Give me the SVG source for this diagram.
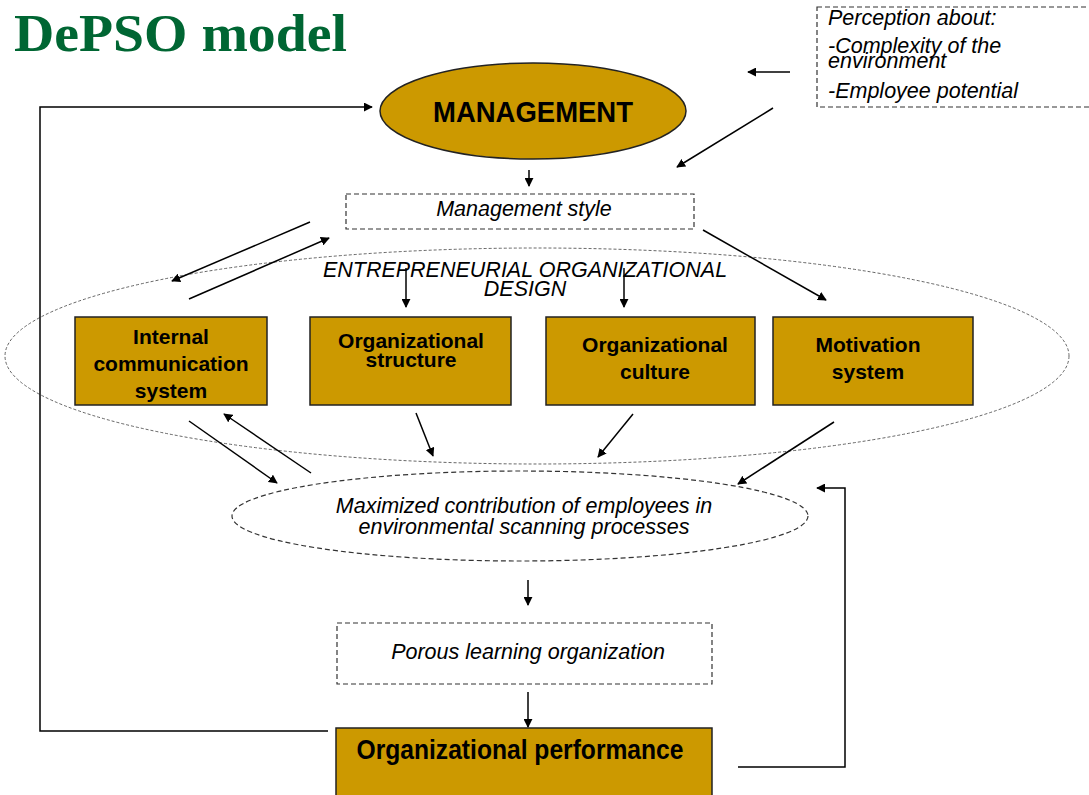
<svg xmlns="http://www.w3.org/2000/svg" width="1089" height="795" viewBox="0 0 1089 795">
<style>
.box{fill:#CC9900;stroke:#222;stroke-width:1.5}
.bt{font-family:"Liberation Sans",Arial,sans-serif;font-weight:bold;font-size:21px;fill:#000;text-anchor:middle}
.it{font-family:"Liberation Sans",Arial,sans-serif;font-style:italic;font-size:21.5px;fill:#000}
.dash{fill:none;stroke:#333;stroke-width:1.2;stroke-dasharray:5,3}
.ar{fill:none;stroke:#000;stroke-width:1.5;marker-end:url(#ah)}
</style>
<defs>
<marker id="ah" viewBox="0 0 10 10" refX="9" refY="5" markerWidth="9" markerHeight="9" markerUnits="userSpaceOnUse" orient="auto">
<path d="M0,0 L10,5 L0,10 z" fill="#000"/>
</marker>
</defs>
<rect width="1089" height="795" fill="#fff"/>
<text x="14" y="51" font-family="'Liberation Serif','Times New Roman',serif" font-weight="bold" font-size="52" fill="#006633" textLength="333" lengthAdjust="spacingAndGlyphs">DePSO model</text>

<g id="perception">
<rect x="817" y="7" width="290" height="100" class="dash"/>
<text class="it" x="828" y="25">Perception about:</text>
<text class="it" x="828" y="53">-Complexity of the</text>
<text class="it" x="828" y="68">environment</text>
<text class="it" x="828" y="98">-Employee potential</text>
</g>

<g id="management">
<ellipse cx="533" cy="111" rx="153" ry="48" class="box"/>
<text class="bt" x="533" y="122" style="font-size:30px" textLength="200" lengthAdjust="spacingAndGlyphs">MANAGEMENT</text>
</g>

<g id="management-style">
<rect x="346" y="194" width="348" height="35" class="dash"/>
<text class="it" x="524" y="216" text-anchor="middle">Management style</text>
</g>

<g id="entrepreneurial-design">
<ellipse cx="537" cy="356" rx="532" ry="108" fill="none" stroke="#555" stroke-width="0.9" stroke-dasharray="3,2"/>
<text class="it" x="525" y="277" text-anchor="middle">ENTREPRENEURIAL ORGANIZATIONAL</text>
<text class="it" x="525" y="296" text-anchor="middle">DESIGN</text>
</g>

<g id="internal-communication">
<rect x="75" y="317" width="192" height="88" class="box"/>
<text class="bt" x="171" y="344">Internal</text>
<text class="bt" x="171" y="371">communication</text>
<text class="bt" x="171" y="398">system</text>
</g>
<g id="organizational-structure">
<rect x="310" y="317" width="201" height="88" class="box"/>
<text class="bt" x="411" y="348">Organizational</text>
<text class="bt" x="411" y="367">structure</text>
</g>
<g id="organizational-culture">
<rect x="546" y="317" width="209" height="88" class="box"/>
<text class="bt" x="655" y="352">Organizational</text>
<text class="bt" x="655" y="379">culture</text>
</g>
<g id="motivation-system">
<rect x="773" y="317" width="200" height="88" class="box"/>
<text class="bt" x="868" y="352">Motivation</text>
<text class="bt" x="868" y="379">system</text>
</g>

<g id="maximized-contribution">
<ellipse cx="520" cy="516" rx="288" ry="45" class="dash"/>
<text class="it" x="524" y="513" text-anchor="middle">Maximized contribution of employees in</text>
<text class="it" x="524" y="534" text-anchor="middle">environmental scanning processes</text>
</g>

<g id="porous-learning">
<rect x="337" y="623" width="375" height="61" class="dash"/>
<text class="it" x="528" y="659" text-anchor="middle">Porous learning organization</text>
</g>

<g id="organizational-performance">
<rect x="336" y="728" width="376" height="80" class="box"/>
<text class="bt" x="520" y="759" style="font-size:27px" textLength="327" lengthAdjust="spacingAndGlyphs">Organizational performance</text>
</g>

<g id="connectors">
<path class="ar" d="M790,72 L748,72"/>
<path class="ar" d="M773,108 L677,167"/>
<path class="ar" d="M529,170 L529,186"/>
<path class="ar" d="M310,222 L172,281"/>
<path class="ar" d="M189,299 L329,238"/>
<path class="ar" d="M703,230 L826,300"/>
<path class="ar" d="M406,268 L406,307"/>
<path class="ar" d="M624,268 L624,307"/>
<path class="ar" d="M189,421 L277,483"/>
<path class="ar" d="M311,473 L224,414"/>
<path class="ar" d="M416,413 L433,456"/>
<path class="ar" d="M633,414 L598,457"/>
<path class="ar" d="M834,422 L738,484"/>
<path class="ar" d="M528,580 L528,605"/>
<path class="ar" d="M528,692 L528,727"/>
<path class="ar" d="M328,731 L40,731 L40,107 L372,107"/>
<path class="ar" d="M738,767 L845,767 L845,488 L817,488"/>
</g>
</svg>
